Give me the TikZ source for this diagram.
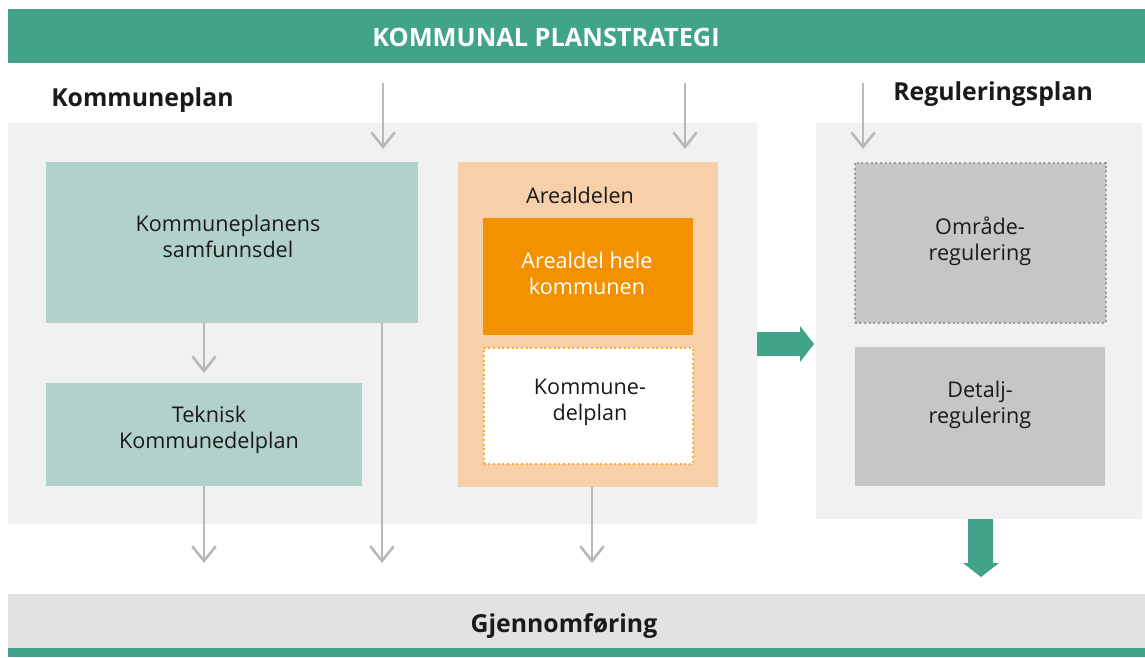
\documentclass[tikz,border=0pt]{standalone}
\usepackage{fontspec}
\setmainfont{Open Sans}
\usetikzlibrary{arrows.meta,fit,positioning}
\definecolor{kgreen}{HTML}{41A387}
\definecolor{panelgray}{HTML}{F1F1F1}
\definecolor{tealbox}{HTML}{B2D1CB}
\definecolor{peach}{HTML}{F7D0A9}
\definecolor{korange}{HTML}{F39200}
\definecolor{dotorange}{HTML}{F8B133}
\definecolor{graybox}{HTML}{C6C6C6}
\definecolor{dotgray}{HTML}{9C9C9C}
\definecolor{bottomgray}{HTML}{E2E2E2}
\definecolor{arrowgray}{HTML}{B8B8B8}
\definecolor{ktext}{HTML}{1A1A1A}
\tikzset{
  area/.style={inner sep=0pt, outer sep=0pt, draw=none},
  bodytext/.style={font=\fontsize{16.2}{19.5}\selectfont, text=ktext, align=center, inner sep=0pt},
  headtext/.style={font=\bfseries\fontsize{18.6}{22}\selectfont, text=ktext, inner sep=0pt},
  thinarrow/.style={draw=arrowgray, line width=1.9pt, -{Straight Barb[length=11pt,width=17.5pt,line width=1.9pt]}},
}
\begin{document}
\begin{tikzpicture}[x=0.75pt,y=-0.75pt]
\useasboundingbox (0,0) rectangle (1145,657);
\fill[white] (0,0) rectangle (1145,657);
% top bar
\node[area, fill=kgreen, fit={(8,9)(1145,62.5)}] (top) {};
\node[font=\bfseries\fontsize{19}{22}\selectfont, text=white, anchor=base, inner sep=0pt] (toptext) at (546,46.5) {KOMMUNAL PLANSTRATEGI};
% headings
\node[headtext, anchor=base west] (kphead) at (51,106) {Kommuneplan};
\node[headtext, anchor=base west] (rphead) at (893,100.5) {Reguleringsplan};
% panels
\node[area, fill=panelgray, fit={(8,123)(757,524)}] (leftpanel) {};
\node[area, fill=panelgray, fit={(816,123)(1142,519)}] (rightpanel) {};
% left boxes
\node[area, fill=tealbox, fit={(46,162)(418,323)}] (samf) {};
\node[bodytext] (samftext) at (228,236) {Kommuneplanens\\samfunnsdel};
\node[area, fill=tealbox, fit={(46,383)(362,486)}] (tekn) {};
\node[bodytext] (tekntext) at (209,430) {Teknisk\\Kommunedelplan};
% arealdelen
\node[area, fill=peach, fit={(458,162)(718,487)}] (areal) {};
\node[bodytext, anchor=base] (arealtext) at (580,203) {Arealdelen};
\node[area, fill=korange, fit={(483,218)(693,335)}] (hele) {};
\node[bodytext, text=white] (heletext) at (587,273) {Arealdel hele\\kommunen};
\node[area, fill=white, draw=dotorange, line width=1.5pt, dotted, fit={(483.5,347.5)(692.5,463.5)}] (kdp) {};
\node[bodytext] (kdptext) at (590,402) {Kommune-\\delplan};
% regulering boxes
\node[area, fill=graybox, draw=dotgray, line width=1.5pt, dotted, fit={(854.5,162.5)(1105.5,322.5)}] (omr) {};
\node[bodytext] (omrtext) at (980,241) {Område-\\regulering};
\node[area, fill=graybox, fit={(855,347)(1105,486)}] (det) {};
\node[bodytext] (dettext) at (980,405) {Detalj-\\regulering};
% bottom bar
\node[area, fill=bottomgray, fit={(8,594)(1145,648)}] (bottom) {};
\node[area, fill=kgreen, fit={(8,648)(1145,657)}] (bottomline) {};
\node[headtext, anchor=base] (bottomtext) at (564,632) {Gjennomføring};
% coordinates for arrows
\coordinate (a1s) at (383,83);
\coordinate (a1e) at (383,149);
\coordinate (a2s) at (685,83);
\coordinate (a2e) at (685,149);
\coordinate (a3s) at (863,83);
\coordinate (a3e) at (863,149);
\coordinate (b1e) at (204,373);
\coordinate (c1e) at (204,563);
\coordinate (c2s) at (382,323);
\coordinate (c2e) at (382,563);
\coordinate (c3e) at (592,563);
% thin arrows
\draw[thinarrow] (a1s) -- (a1e);
\draw[thinarrow] (a2s) -- (a2e);
\draw[thinarrow] (a3s) -- (a3e);
\draw[thinarrow] (samf.south -| b1e) -- (b1e);
\draw[thinarrow] (tekn.south -| c1e) -- (c1e);
\draw[thinarrow] (c2s) -- (c2e);
\draw[thinarrow] (areal.south -| c3e) -- (c3e);
% fat green arrows
\fill[kgreen] (leftpanel.east |- 0,332) -- (800,332) -- (800,326) -- (814,344) -- (800,362) -- (800,356) -- (leftpanel.east |- 0,356) -- cycle;
\fill[kgreen] (968,519) -- (993,519) -- (993,563) -- (999,563) -- (981,577) -- (963,563) -- (968,563) -- cycle;
\end{tikzpicture}
\end{document}
